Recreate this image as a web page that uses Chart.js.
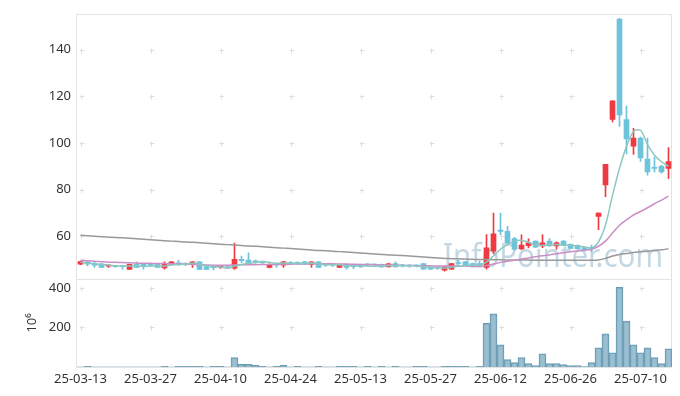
<!DOCTYPE html>
<html>
<head>
<meta charset="utf-8">
<script src="https://cdn.jsdelivr.net/npm/chart.js@4.4.1/dist/chart.umd.min.js"></script>
<style>
  html, body { margin: 0; padding: 0; background: #fff; }
</style>
</head>
<body>
<canvas id="chart" width="680" height="396"></canvas>
<script>
// trading days
const dates = [
  '25-03-13','25-03-14','25-03-17','25-03-18','25-03-19','25-03-20','25-03-21','25-03-24','25-03-25','25-03-26',
  '25-03-27','25-03-28','25-03-31','25-04-01','25-04-02','25-04-03','25-04-04','25-04-07','25-04-08','25-04-09',
  '25-04-10','25-04-11','25-04-14','25-04-15','25-04-16','25-04-17','25-04-18','25-04-21','25-04-22','25-04-23',
  '25-04-24','25-04-25','25-04-28','25-04-29','25-04-30','25-05-02','25-05-07','25-05-08','25-05-09','25-05-12',
  '25-05-13','25-05-14','25-05-15','25-05-16','25-05-19','25-05-20','25-05-21','25-05-22','25-05-23','25-05-26',
  '25-05-27','25-05-28','25-05-29','25-05-30','25-06-02','25-06-04','25-06-05','25-06-09','25-06-10','25-06-11',
  '25-06-12','25-06-13','25-06-16','25-06-17','25-06-18','25-06-19','25-06-20','25-06-23','25-06-24','25-06-25',
  '25-06-26','25-06-27','25-06-30','25-07-01','25-07-02','25-07-03','25-07-04','25-07-07','25-07-08','25-07-09',
  '25-07-10','25-07-11','25-07-14','25-07-15','25-07-16'
];

const open = [
  48.0, 49.0, 48.3, 48.2, 47.2, 47.1, 47.1, 45.8, 48.0, 48.0,
  47.7, 48.0, 46.4, 47.9, 48.6, 48.1, 48.0, 49.0, 47.0, 46.6,
  46.9, 46.7, 46.3, 50.1, 49.8, 49.1, 48.8, 46.6, 47.8, 47.6,
  48.5, 48.5, 49.0, 47.9, 49.0, 47.7, 47.7, 46.6, 48.0, 47.1,
  48.0, 47.7, 47.7, 48.0, 46.9, 48.3, 47.4, 47.3, 47.3, 48.3,
  46.9, 46.4, 45.5, 45.9, 48.4, 49.0, 48.3, 48.3, 46.6, 53.6,
  62.6, 62.1, 59.0, 54.6, 55.9, 57.9, 55.8, 57.9, 55.8, 57.9,
  56.5, 56.1, 55.1, 54.9, 68.5, 82.0, 110.0, 153.0, 110.0, 98.6,
  102.0, 93.0, 89.5, 90.0, 89.0
];
const high = [
  49.3, 49.2, 49.0, 48.3, 47.9, 47.6, 47.5, 48.1, 49.0, 48.1,
  48.3, 48.1, 49.0, 49.1, 49.7, 48.6, 49.1, 49.1, 47.1, 47.2,
  47.3, 47.0, 57.1, 51.5, 52.9, 49.8, 49.4, 48.2, 48.4, 49.2,
  49.1, 49.0, 49.2, 49.1, 49.1, 48.3, 48.2, 48.1, 48.1, 47.6,
  48.1, 48.3, 48.2, 48.1, 48.4, 49.0, 48.0, 47.8, 47.9, 48.4,
  47.0, 46.9, 47.0, 48.4, 49.7, 49.2, 48.5, 49.4, 60.7, 69.9,
  69.9, 64.2, 59.5, 60.6, 58.9, 58.0, 60.6, 59.0, 57.6, 58.1,
  56.7, 56.3, 55.3, 56.2, 70.0, 90.8, 118.0, 153.4, 115.8, 106.2,
  102.5, 102.0, 93.9, 90.5, 98.0
];
const low = [
  47.8, 47.3, 46.6, 46.5, 46.6, 46.6, 45.9, 45.7, 46.5, 45.9,
  47.0, 46.5, 45.9, 47.8, 47.5, 47.4, 46.6, 45.7, 45.7, 45.6,
  46.2, 46.1, 45.8, 48.7, 48.3, 48.3, 48.0, 46.4, 46.6, 46.6,
  47.8, 47.8, 47.9, 46.6, 46.5, 47.1, 47.0, 46.5, 45.9, 46.1,
  46.6, 47.1, 47.0, 46.6, 46.8, 46.8, 46.8, 46.7, 46.8, 45.8,
  45.7, 45.8, 45.0, 45.8, 47.9, 47.5, 46.8, 46.8, 45.9, 52.4,
  60.7, 56.8, 54.0, 54.2, 55.0, 55.2, 55.1, 55.7, 54.4, 56.0,
  54.7, 54.5, 53.9, 53.4, 62.8, 77.0, 109.0, 107.0, 95.3, 95.0,
  92.0, 86.2, 87.5, 87.0, 84.7
];
const close = [
  49.1, 48.0, 47.6, 46.6, 47.3, 47.0, 47.0, 48.0, 46.6, 47.0,
  47.6, 46.6, 48.3, 49.0, 48.0, 48.0, 49.0, 45.8, 45.8, 46.5,
  46.9, 46.6, 50.1, 49.5, 48.7, 49.0, 48.7, 48.0, 47.7, 49.0,
  48.4, 48.4, 48.1, 49.0, 46.6, 47.6, 47.6, 48.0, 46.6, 47.0,
  46.8, 47.6, 47.6, 46.8, 48.2, 46.9, 47.3, 47.2, 47.2, 45.9,
  45.9, 46.3, 46.9, 48.3, 48.3, 47.6, 46.9, 46.9, 55.0, 61.0,
  62.1, 57.2, 54.4, 56.2, 57.2, 55.3, 57.2, 55.8, 57.2, 56.1,
  54.8, 54.7, 54.0, 54.8, 69.9, 90.8, 118.0, 112.0, 101.7, 102.0,
  93.5, 87.5, 89.0, 87.6, 92.0
];

// moving averages as drawn
const ma5 = [
  48.8, 48.6, 48.2, 47.8, 47.7, 47.3, 47.1, 47.2, 47.2, 47.1,
  47.2, 47.2, 47.2, 47.7, 47.9, 48.0, 48.5, 48.0, 47.3, 47.0,
  46.8, 46.3, 47.2, 47.9, 48.4, 48.8, 49.2, 48.8, 48.4, 48.5,
  48.4, 48.3, 48.3, 48.6, 48.1, 47.9, 47.8, 47.8, 47.3, 47.4,
  47.2, 47.2, 47.1, 47.2, 47.4, 47.4, 47.4, 47.3, 47.4, 46.9,
  46.7, 46.5, 46.4, 46.7, 47.1, 47.5, 47.6, 47.6, 48.9, 51.5,
  54.4, 56.4, 57.9, 58.2, 57.4, 56.1, 56.1, 56.3, 56.5, 56.3,
  56.2, 55.7, 55.4, 54.9, 57.6, 64.8, 77.5, 89.1, 98.5, 104.9,
  105.4, 99.3, 94.7, 91.9, 89.9
];
const ma20 = [
  49.7, 49.5, 49.3, 49.1, 48.9, 48.8, 48.7, 48.6, 48.5, 48.4,
  48.4, 48.3, 48.3, 48.2, 48.1, 48.0, 47.9, 47.8, 47.7, 47.6,
  47.6, 47.6, 47.7, 47.8, 47.8, 47.8, 47.9, 47.9, 47.9, 48.0,
  48.0, 48.1, 48.1, 48.2, 48.2, 48.2, 48.2, 48.1, 48.1, 48.0,
  47.9, 47.9, 47.8, 47.7, 47.7, 47.6, 47.5, 47.5, 47.4, 47.3,
  47.3, 47.2, 47.2, 47.2, 47.2, 47.2, 47.1, 47.1, 47.4, 48.1,
  48.8, 49.3, 49.7, 50.2, 50.7, 51.2, 51.6, 52.0, 52.5, 52.9,
  53.3, 53.7, 54.0, 54.4, 55.7, 57.9, 61.4, 64.7, 67.0, 69.1,
  70.6, 72.2, 73.9, 75.5, 77.2
];
const maLong = [
  60.4, 60.2, 60.0, 59.8, 59.6, 59.5, 59.3, 59.1, 58.9, 58.7,
  58.5, 58.3, 58.1, 57.9, 57.7, 57.5, 57.4, 57.2, 57.0, 56.8,
  56.6, 56.4, 56.2, 56.0, 55.8, 55.7, 55.5, 55.3, 55.1, 54.9,
  54.7, 54.5, 54.3, 54.1, 53.9, 53.8, 53.6, 53.4, 53.2, 53.0,
  52.8, 52.6, 52.4, 52.2, 52.0, 51.9, 51.7, 51.5, 51.3, 51.1,
  50.9, 50.7, 50.5, 50.4, 50.3, 50.2, 50.1, 50.0, 50.0, 49.9,
  49.9, 49.8, 49.8, 49.8, 49.8, 49.7, 49.7, 49.7, 49.7, 49.7,
  49.7, 49.7, 49.7, 49.7, 49.8, 50.5, 51.5, 52.2, 52.6, 53.0,
  53.3, 53.6, 53.9, 54.2, 54.6
];

// volume, millions of shares
const volume = [
  0.3, 4, 0.3, 0.3, 0.3, 0.3, 0.3, 0.3, 0.3, 0.3,
  0.3, 0.3, 4, 0.3, 4, 4, 4, 4, 0.3, 4,
  4, 0.3, 47, 13, 13, 8, 4, 0.3, 4, 8,
  0.3, 4, 0.3, 0.3, 4, 0.3, 0.3, 4, 4, 4,
  0.3, 4, 0.3, 4, 0.3, 4, 0.3, 0.3, 4, 4,
  0.3, 0.3, 4, 4, 4, 4, 0.3, 3, 220, 268,
  112, 37, 22, 47, 17, 7, 67, 17, 17, 12,
  7, 7, 2, 22, 97, 167, 72, 402, 232, 112,
  72, 97, 47, 17, 92
];

const priceTicks = [60, 80, 100, 120, 140];
const volTicks = [200, 400];

const UP = '#ee3a40';
const DOWN = '#6cc3da';
const candleColors = close.map((c, i) => c >= open[i] ? UP : DOWN);
const bodies = open.map((o, i) => [Math.min(o, close[i]), Math.max(o, close[i])]);
const wicks = low.map((l, i) => [l, high[i]]);

const decor = {
  id: 'decor',
  beforeDatasetsDraw(chart) {
    const { ctx, chartArea, scales } = chart;
    const x = scales.x, y = scales.y, v = scales.vol;
    ctx.save();
    // watermark
    ctx.font = '33px "Noto Sans"';
    ctx.fillStyle = 'rgba(160,192,212,0.62)';
    ctx.textAlign = 'right';
    ctx.textBaseline = 'alphabetic';
    ctx.fillText('InfoPointer.com', chartArea.right - 9, y.bottom - 12, 220);
    // grid crosses
    ctx.strokeStyle = '#dedede';
    ctx.lineWidth = 1;
    const xs = [];
    for (let i = 0; i < dates.length; i += 10) xs.push(x.getPixelForValue(i));
    const ys = priceTicks.map(t => y.getPixelForValue(t))
      .concat(volTicks.map(t => v.getPixelForValue(t)));
    ctx.beginPath();
    xs.forEach(px => ys.forEach(py => {
      const cx = Math.round(px) + 0.5, cy = Math.round(py) + 0.5;
      ctx.moveTo(cx - 2, cy); ctx.lineTo(cx + 3, cy);
      ctx.moveTo(cx, cy - 2); ctx.lineTo(cx, cy + 3);
    }));
    ctx.stroke();
    // panel frames
    ctx.strokeStyle = '#e3e3e3';
    ctx.beginPath();
    const l = Math.round(chartArea.left) - 0.5, r = Math.round(chartArea.right) - 0.5;
    const t = Math.round(chartArea.top) + 0.5, m = Math.round(y.bottom) + 0.5, b = Math.round(chartArea.bottom) + 0.5;
    ctx.moveTo(l, t); ctx.lineTo(r, t); ctx.lineTo(r, b); ctx.lineTo(l, b); ctx.closePath();
    ctx.moveTo(l, m); ctx.lineTo(r, m);
    ctx.stroke();
    ctx.restore();
  }
};

const tickFont = { family: '"Noto Sans", sans-serif', size: 13 };

new Chart(document.getElementById('chart'), {
  type: 'bar',
  data: {
    labels: dates,
    datasets: [
      { type: 'line', label: 'MA5', data: ma5, yAxisID: 'y', borderColor: '#8cc8c0', borderWidth: 1.5, pointRadius: 0, tension: 0.3, order: 0 },
      { type: 'line', label: 'MA20', data: ma20, yAxisID: 'y', borderColor: '#cc8ec6', borderWidth: 1.5, pointRadius: 0, tension: 0.3, order: 0 },
      { type: 'line', label: 'MA long', data: maLong, yAxisID: 'y', borderColor: '#999999', borderWidth: 1.5, pointRadius: 0, tension: 0.3, order: 0 },
      { label: 'body', data: bodies, yAxisID: 'y', backgroundColor: candleColors, barThickness: 5, minBarLength: 1, grouped: false, order: 1 },
      { label: 'wick', data: wicks, yAxisID: 'y', backgroundColor: candleColors, barThickness: 1, grouped: false, order: 2 },
      { label: 'volume', data: volume, yAxisID: 'vol', backgroundColor: 'rgba(130,175,198,0.8)', borderColor: '#6a9bb5', borderWidth: 1, barPercentage: 1, categoryPercentage: 1, grouped: false, order: 3 }
    ]
  },
  options: {
    responsive: false,
    animation: false,
    layout: { padding: { top: 10, right: 8, left: 0, bottom: 0 } },
    plugins: { legend: { display: false }, tooltip: { enabled: false } },
    scales: {
      x: {
        grid: { display: false, drawTicks: false },
        border: { display: false },
        ticks: {
          autoSkip: false, maxRotation: 0, padding: 4, color: '#333', font: tickFont,
          callback: (val, idx) => idx % 10 === 0 ? dates[idx] : null
        },
        afterFit: s => { s.height = 29; }
      },
      vol: {
        type: 'linear', position: 'left', stack: 'panels', stackWeight: 1,
        min: 0, max: 446,
        grid: { display: false, drawTicks: false },
        border: { display: false },
        ticks: { padding: 6, color: '#333', font: tickFont },
        title: { display: true, text: '10⁶', color: '#333', font: tickFont, padding: { top: 24, bottom: 0 } },
        afterBuildTicks: s => { s.ticks = volTicks.map(v => ({ value: v })); },
        afterFit: s => { s.width = 77; }
      },
      y: {
        type: 'linear', position: 'left', stack: 'panels', stackWeight: 3,
        min: 41.8, max: 155.3,
        grid: { display: false, drawTicks: false },
        border: { display: false },
        ticks: { padding: 6, color: '#333', font: tickFont },
        afterBuildTicks: s => { s.ticks = priceTicks.map(v => ({ value: v })); },
        afterFit: s => { s.width = 77; }
      }
    }
  },
  plugins: [decor]
});
</script>
</body>
</html>
